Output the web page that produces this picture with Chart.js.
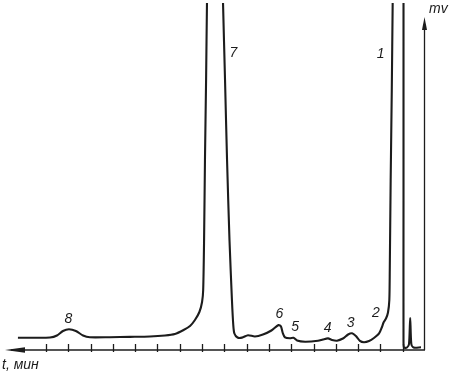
<!DOCTYPE html>
<html>
<head>
<meta charset="utf-8">
<script src="https://cdn.jsdelivr.net/npm/chart.js@4/dist/chart.umd.min.js"></script>
<style>
  html, body { margin: 0; padding: 0; background: #fff; }
  canvas { display: block; }
</style>
</head>
<body>
<canvas id="chrom" width="450" height="373"></canvas>
<script>
// chromatogram trace, time runs right-to-left (min), signal in arbitrary mV units
const timeMin = [
  17.26, 16.50, 15.82, 15.51, 15.24, 14.97, 14.66, 14.34, 14.03, 13.13,
  12.23, 11.34, 10.66, 10.22, 9.83, 9.54, 9.32, 9.12, 9.00, 8.95,
  8.91, 8.87, 8.82, 8.78, 8.757, 8.42, 8.08, 8.06, 7.97, 7.88,
  7.77, 7.66, 7.60, 7.55, 7.41, 7.21, 6.94, 6.63, 6.27, 5.89,
  5.57, 5.46, 5.38, 5.28, 5.06, 4.90, 4.74, 4.38, 3.80, 3.58,
  3.35, 3.17, 2.95, 2.68, 2.45, 2.27, 2.10, 1.92, 1.74, 1.51,
  1.29, 1.06, 0.93, 0.86, 0.75, 0.66, 0.60, 0.58, 0.54, 0.49,
  0.45, 0.435, 0.19, -0.036, -0.036, -0.036, -0.036, -0.058, -0.193, -0.283,
  -0.336, -0.386, -0.485, -0.821
];
const signalMv = [
  3.54, 3.52, 3.60, 4.18, 5.48, 5.97, 5.48, 4.18, 3.66, 3.69,
  3.78, 3.89, 4.18, 4.61, 5.76, 6.92, 8.65, 10.95, 13.83, 17.29,
  31.7, 54.8, 77.8, 100, 106.6, 118.2, 106.6, 100, 77.8, 54.8,
  31.7, 14.4, 7.20, 4.76, 3.60, 3.57, 4.27, 3.89, 4.47, 5.62,
  7.20, 6.77, 4.90, 3.66, 3.37, 3.54, 2.74, 2.39, 2.65, 3.03,
  3.34, 2.88, 2.68, 3.31, 4.47, 4.81, 4.03, 2.65, 2.25, 2.59,
  3.46, 4.76, 6.63, 7.93, 9.08, 10.81, 14.41, 23.05, 48.99, 74.93,
  100, 106.6, 118.2, 106.6, 100, 43.2, 2.88, 0.72, 0.72, 1.73,
  9.22, 1.73, 0.72, 0.78
];

const tickMinutes = [0, 1, 2, 3, 4, 5, 6, 7, 8, 9, 10, 11, 12, 13, 14, 15, 16];

// peak numbers and where they sit
const peakNames = ['1', '2', '3', '4', '5', '6', '7', '8'];
const peakLabelT = [0.99, 1.20, 2.34, 3.37, 4.83, 5.53, 7.60, 15.00];
const peakLabelMv = [85.2, 10.52, 7.78, 6.34, 6.48, 10.37, 85.5, 8.93];

const INK = '#1c1c1c';
const FONT = 'italic 14px "Liberation Sans", Arial, sans-serif';

const drawAxes = {
  id: 'drawAxes',
  beforeDatasetsDraw(chart) {
    const { ctx, chartArea, scales } = chart;
    const x = scales.x, y = scales.y;
    const y0 = y.getPixelForValue(0);
    const xr = chartArea.right;
    ctx.save();
    ctx.strokeStyle = INK;
    ctx.fillStyle = INK;
    ctx.lineWidth = 1.3;

    // time axis, arrow to the left
    ctx.beginPath();
    ctx.moveTo(chartArea.left + 6, y0);
    ctx.lineTo(xr, y0);
    ctx.stroke();
    ctx.beginPath();
    ctx.moveTo(chartArea.left, y0);
    ctx.lineTo(chartArea.left + 20, y0 - 2.8);
    ctx.lineTo(chartArea.left + 20, y0 + 2.8);
    ctx.closePath();
    ctx.fill();

    tickMinutes.forEach(t => {
      const px = Math.round(x.getPixelForValue(t)) + 0.5;
      ctx.beginPath();
      ctx.moveTo(px, y0 - 6);
      ctx.lineTo(px, y0 + 2);
      ctx.stroke();
    });

    // signal axis, arrow up
    const top = chartArea.top + 14;
    ctx.beginPath();
    ctx.moveTo(xr - 0.5, y0);
    ctx.lineTo(xr - 0.5, top + 8);
    ctx.stroke();
    ctx.beginPath();
    ctx.moveTo(xr - 0.5, top);
    ctx.lineTo(xr - 3, top + 13);
    ctx.lineTo(xr + 2, top + 13);
    ctx.closePath();
    ctx.fill();
    ctx.restore();
  },
  afterDraw(chart) {
    const { ctx, chartArea, scales } = chart;
    ctx.save();
    ctx.fillStyle = INK;
    ctx.font = FONT;
    ctx.textAlign = 'center';
    ctx.textBaseline = 'middle';
    peakNames.forEach((n, i) => {
      ctx.fillText(n, scales.x.getPixelForValue(peakLabelT[i]), scales.y.getPixelForValue(peakLabelMv[i]));
    });
    ctx.textAlign = 'left';
    ctx.textBaseline = 'alphabetic';
    ctx.fillText('t, мин', 2, 369);
    ctx.fillText('mv', chartArea.right + 4, 13);
    ctx.restore();
  }
};

new Chart(document.getElementById('chrom'), {
  type: 'line',
  data: {
    datasets: [{
      data: timeMin.map((t, i) => ({ x: t, y: signalMv[i] })),
      borderColor: INK,
      borderWidth: 2.1,
      pointRadius: 0,
      tension: 0.25,
      fill: false
    }]
  },
  options: {
    responsive: false,
    animation: false,
    devicePixelRatio: 1,
    layout: { padding: { left: 5, right: 25, top: 3, bottom: 23 } },
    plugins: { legend: { display: false }, tooltip: { enabled: false } },
    scales: {
      x: { type: 'linear', reverse: true, min: -1, max: 17.84, display: false },
      y: { min: 0, max: 100, display: false }
    }
  },
  plugins: [drawAxes]
});
</script>
</body>
</html>
